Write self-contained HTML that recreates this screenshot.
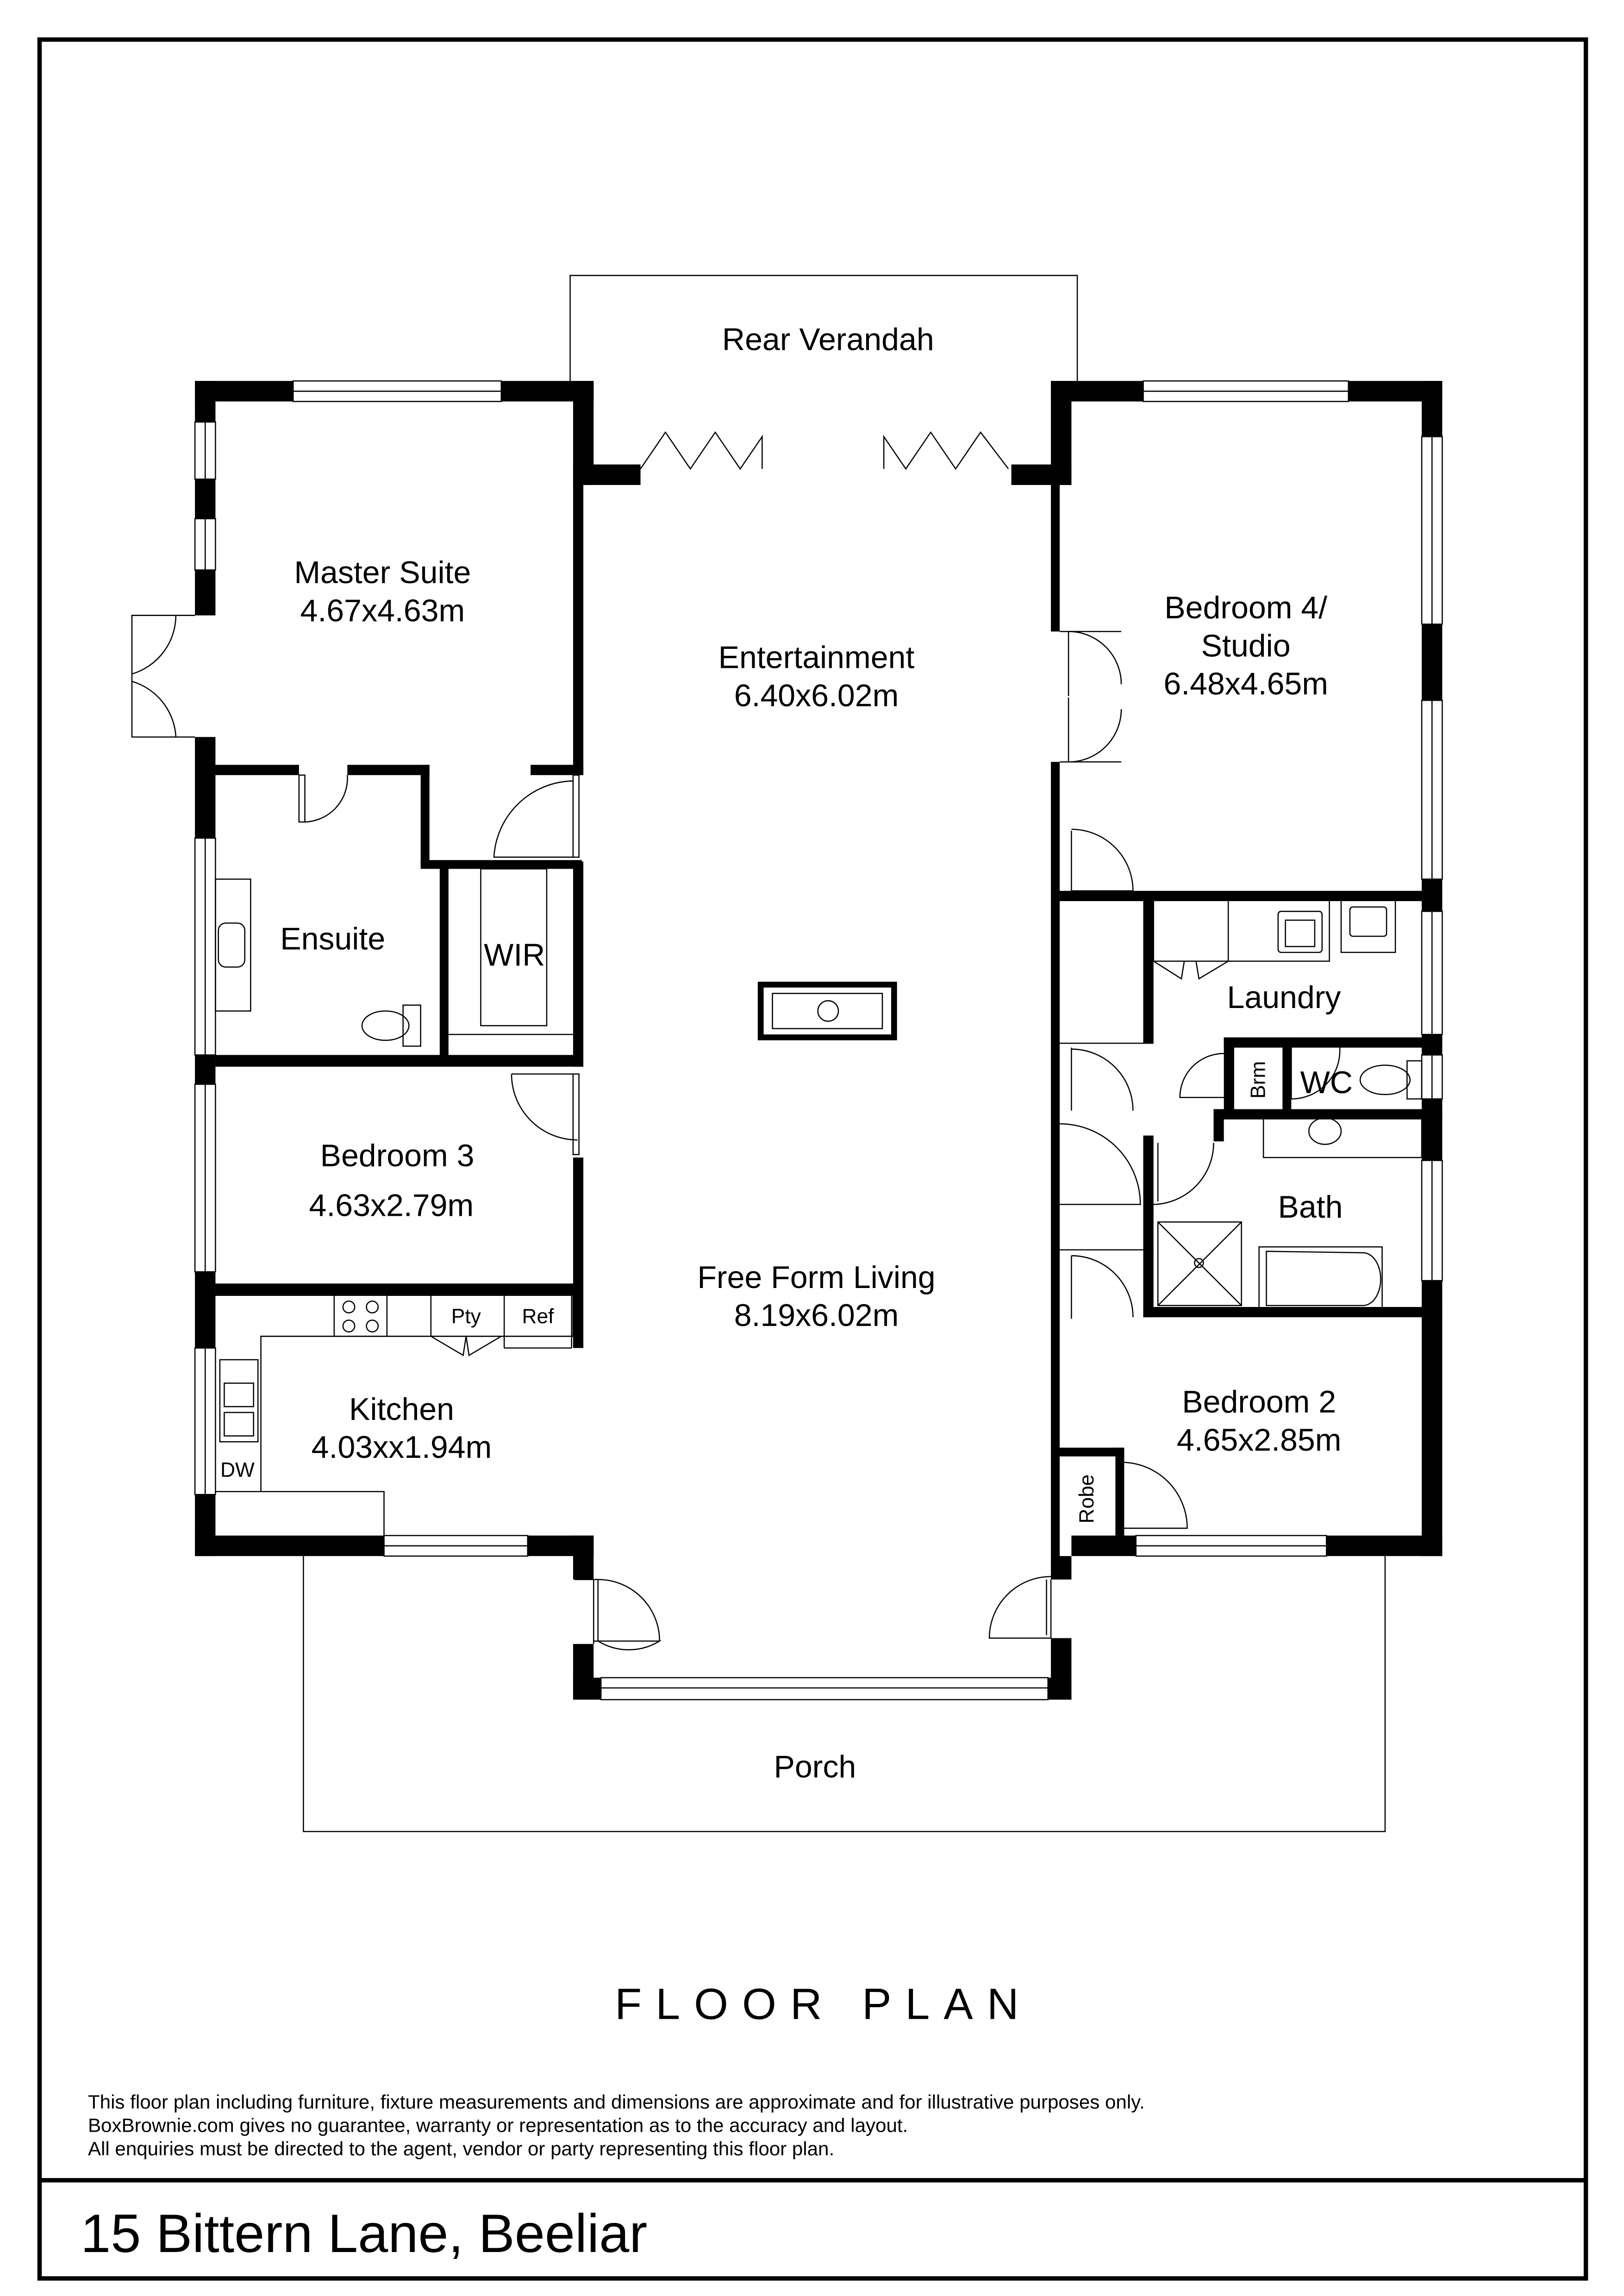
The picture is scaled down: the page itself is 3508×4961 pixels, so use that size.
<!DOCTYPE html>
<html><head><meta charset="utf-8"><style>
html,body{margin:0;padding:0;background:#fff;}
svg{display:block;}
text{font-family:"Liberation Sans",sans-serif;fill:#000;}
</style></head><body>
<svg width="3508" height="4961" viewBox="0 0 1108 1567" preserveAspectRatio="none" xmlns="http://www.w3.org/2000/svg">
<rect x="0" y="0" width="1108" height="1567" fill="#fff"/>
<rect x="27" y="27" width="1055" height="1528" fill="none" stroke="#000" stroke-width="3"/>
<line x1="27" y1="1488" x2="1082" y2="1488" stroke="#000" stroke-width="3"/>

<g fill="none" stroke="#000" stroke-width="0.8">
<polyline points="389,260 389,188 735,188 735,260"/>
<polyline points="207,1062 207,1250 945,1250 945,1062"/>
<rect x="200" y="260" width="142" height="14"/><line x1="200" y1="267" x2="342" y2="267"/>
<rect x="780" y="260" width="140" height="14"/><line x1="780" y1="267" x2="920" y2="267"/>
<rect x="133" y="288" width="14" height="39"/><line x1="140" y1="288" x2="140" y2="327"/>
<rect x="133" y="354" width="14" height="35"/><line x1="140" y1="354" x2="140" y2="389"/>
<rect x="133" y="572" width="14" height="148"/><line x1="140" y1="572" x2="140" y2="720"/>
<rect x="133" y="740" width="14" height="128"/><line x1="140" y1="740" x2="140" y2="868"/>
<rect x="133" y="920" width="14" height="100"/><line x1="140" y1="920" x2="140" y2="1020"/>
<rect x="262" y="1048" width="98" height="14"/><line x1="262" y1="1055" x2="360" y2="1055"/>
<rect x="775" y="1048" width="130" height="14"/><line x1="775" y1="1055" x2="905" y2="1055"/>
<rect x="410" y="1145" width="305" height="15"/><line x1="410" y1="1152" x2="715" y2="1152"/>
<rect x="970" y="298" width="14" height="128"/><line x1="977" y1="298" x2="977" y2="426"/>
<rect x="970" y="478" width="14" height="122"/><line x1="977" y1="478" x2="977" y2="600"/>
<rect x="970" y="622" width="14" height="84"/><line x1="977" y1="622" x2="977" y2="706"/>
<rect x="970" y="720" width="14" height="30"/><line x1="977" y1="720" x2="977" y2="750"/>
<rect x="970" y="792" width="14" height="82"/><line x1="977" y1="792" x2="977" y2="874"/>
</g>

<g fill="#000">
<rect x="133" y="260" width="67" height="14"/>
<rect x="342" y="260" width="63" height="14"/>
<rect x="133" y="260" width="14" height="28"/>
<rect x="133" y="327" width="14" height="27"/>
<rect x="133" y="389" width="14" height="31"/>
<rect x="133" y="503" width="14" height="69"/>
<rect x="133" y="720" width="14" height="20"/>
<rect x="133" y="868" width="14" height="52"/>
<rect x="133" y="1020" width="14" height="42"/>
<rect x="133" y="1048" width="129" height="14"/>
<rect x="360" y="1048" width="45" height="14"/>
<rect x="391" y="260" width="14" height="71"/>
<rect x="391" y="317" width="46" height="14"/>
<rect x="391" y="331" width="7" height="198"/>
<rect x="391" y="588" width="7" height="140"/>
<rect x="391" y="790" width="7" height="130"/>
<rect x="391" y="1048" width="14" height="30"/>
<rect x="391" y="1122" width="14" height="38"/>
<rect x="391" y="1145" width="19" height="15"/>
<rect x="147" y="522" width="57" height="7"/>
<rect x="237" y="522" width="56" height="7"/>
<rect x="362" y="522" width="36" height="7"/>
<rect x="287" y="522" width="6" height="68"/>
<rect x="287" y="587" width="110" height="6"/>
<rect x="300" y="590" width="6" height="137"/>
<rect x="147" y="720" width="250" height="8"/>
<rect x="147" y="876" width="250" height="8"/>
<rect x="717" y="260" width="63" height="14"/>
<rect x="920" y="260" width="64" height="14"/>
<rect x="717" y="260" width="14" height="71"/>
<rect x="690" y="317" width="41" height="14"/>
<rect x="717" y="331" width="6" height="100"/>
<rect x="717" y="520" width="6" height="555"/>
<rect x="970" y="260" width="14" height="38"/>
<rect x="970" y="426" width="14" height="52"/>
<rect x="970" y="600" width="14" height="22"/>
<rect x="970" y="706" width="14" height="14"/>
<rect x="970" y="750" width="14" height="42"/>
<rect x="970" y="874" width="14" height="188"/>
<rect x="731" y="1048" width="44" height="14"/>
<rect x="905" y="1048" width="79" height="14"/>
<rect x="717" y="1062" width="14" height="16"/>
<rect x="717" y="1118" width="14" height="42"/>
<rect x="715" y="1145" width="16" height="15"/>
<rect x="723" y="608" width="261" height="7"/>
<rect x="780" y="614" width="7" height="98"/>
<rect x="835" y="708" width="149" height="7"/>
<rect x="835" y="708" width="7" height="52"/>
<rect x="875" y="708" width="6" height="52"/>
<rect x="828" y="757" width="156" height="7"/>
<rect x="828" y="757" width="7" height="22"/>
<rect x="780" y="775" width="7" height="124"/>
<rect x="780" y="892" width="204" height="7"/>
<rect x="723" y="988" width="44" height="6"/>
<rect x="761" y="988" width="6" height="62"/>
</g>

<g fill="none" stroke="#000" stroke-width="0.8">
<polyline points="437,320 454,295 471,320 488,295 505,320 520,298 520,320"/>
<polyline points="603,320 603,298 618,320 635,295 652,320 669,295 688,320"/>
<path d="M133,420 L90,420 L90,462 M133,503 L90,503 L90,462"/>
<path d="M120,420 A42,42 0 0 1 90,460"/><path d="M120,503 A42,42 0 0 0 90,465"/>
<rect x="204" y="529" width="4" height="32"/><path d="M237,529 A30,30 0 0 1 207,561"/>
<rect x="391" y="529" width="4" height="56"/><path d="M391,533 A55,55 0 0 0 337,585 L391,585"/>
<rect x="391" y="733" width="4" height="55"/><path d="M349,733 A45,45 0 0 0 394,778"/><line x1="349" y1="733" x2="391" y2="733"/>
<path d="M405,1078 L405,1122 M392,1078 L408,1078 L408,1120 A40,40 0 0 0 450,1120 L405,1120 M408,1078 A42,42 0 0 1 450,1120"/>
<path d="M717,1078 L717,1118 L675,1118 A42,42 0 0 1 717,1076 M714,1078 L714,1116"/>
<path d="M723,431 L765,431 M723,520 L765,520"/><path d="M729,431 A36,36 0 0 1 765,467"/><path d="M729,520 A36,36 0 0 0 765,484"/>
<line x1="729" y1="431" x2="729" y2="475"/><line x1="729" y1="476" x2="729" y2="520"/>
<path d="M731,567 L731,608 M731,566 A42,42 0 0 1 773,608 L731,608"/>
<path d="M731,715 L731,758 M731,716 A42,42 0 0 1 773,758"/><line x1="723" y1="712" x2="787" y2="712"/>
<path d="M723,767 A55,55 0 0 1 778,822 L723,822"/>
<path d="M731,857 L731,900 M731,857 A42,42 0 0 1 773,899"/><line x1="723" y1="853" x2="787" y2="853"/>
<path d="M828,780 A42,42 0 0 1 787,822 M790,780 L790,820"/>
<path d="M835,719 A30,30 0 0 0 805,749 L835,749"/>
<path d="M881,714 L881,750 M881,750 A33,33 0 0 0 914,714"/>
<path d="M765,998 A45,45 0 0 1 810,1043 L765,1043 L765,998"/>
<rect x="787" y="614" width="120" height="42"/><line x1="838" y1="614" x2="838" y2="656"/>
<rect x="872" y="622" width="30" height="28" rx="2"/><rect x="877" y="628" width="20" height="18"/>
<rect x="915" y="614" width="37" height="36"/><rect x="921" y="619" width="25" height="20" rx="2"/>
<path d="M787,656 L806,668 L808,656 M838,656 L818,668 L816,656"/>
<ellipse cx="945" cy="737" rx="17" ry="10"/><rect x="960" y="724" width="10" height="26"/>
<rect x="862" y="763" width="108" height="27"/><ellipse cx="904" cy="772" rx="11" ry="9"/>
<rect x="790" y="834" width="57" height="57"/><line x1="790" y1="834" x2="847" y2="891"/><line x1="847" y1="834" x2="790" y2="891"/><circle cx="818" cy="862" r="3"/>
<rect x="859" y="851" width="84" height="43"/><path d="M864,854 L930,855 A12,18 0 0 1 930,891 L864,891 Z"/>
<rect x="147" y="600" width="24" height="90"/><rect x="149" y="630" width="18" height="30" rx="5"/>
<ellipse cx="263" cy="700" rx="16" ry="10"/><rect x="275" y="686" width="12" height="28"/>
<rect x="328" y="593" width="45" height="107"/>
<line x1="306" y1="706" x2="391" y2="706"/>
<path d="M147,884 L391,884 L391,912 L178,912 L178,1018 L262,1018 L262,1048"/>
<line x1="147" y1="1018" x2="178" y2="1018"/>
<line x1="294" y1="884" x2="294" y2="912"/><line x1="344" y1="884" x2="344" y2="920"/>
<line x1="390" y1="884" x2="390" y2="920"/><line x1="344" y1="920" x2="390" y2="920"/>
<path d="M294,912 L316,925 L318,912 M342,912 L320,925 L318,912"/>
<rect x="228" y="884" width="36" height="28"/>
<circle cx="238" cy="892" r="4"/><circle cx="254" cy="892" r="4"/><circle cx="238" cy="905" r="4"/><circle cx="254" cy="905" r="4"/>
<rect x="150" y="928" width="26" height="56"/><rect x="153" y="944" width="20" height="16"/><rect x="153" y="964" width="20" height="16"/>
<rect x="519" y="672" width="91" height="36" stroke-width="4"/><rect x="527" y="678" width="75" height="24"/><circle cx="565" cy="690" r="7"/>
</g>

<g font-size="21.5" text-anchor="middle">
<text x="565" y="239">Rear Verandah</text>
<text x="261" y="398">Master Suite</text><text x="261" y="424">4.67x4.63m</text>
<text x="557" y="456">Entertainment</text><text x="557" y="482">6.40x6.02m</text>
<text x="850" y="422">Bedroom 4/</text><text x="850" y="448">Studio</text><text x="850" y="474">6.48x4.65m</text>
<text x="227" y="648">Ensuite</text>
<text x="351" y="659">WIR</text>
<text x="876" y="688">Laundry</text>
<text x="905" y="746">WC</text>
<text x="894" y="831">Bath</text>
<text x="271" y="796">Bedroom 3</text><text x="267" y="830">4.63x2.79m</text>
<text x="557" y="879">Free Form Living</text><text x="557" y="905">8.19x6.02m</text>
<text x="274" y="969">Kitchen</text><text x="274" y="995">4.03xx1.94m</text>
<text x="859" y="964">Bedroom 2</text><text x="859" y="990">4.65x2.85m</text>
<text x="556" y="1213">Porch</text>
</g>
<g font-size="14" text-anchor="middle">
<text x="318" y="903">Pty</text><text x="367" y="903">Ref</text>
<text x="162" y="1008">DW</text>
<text transform="translate(863,737) rotate(-90)">Brm</text>
<text transform="translate(746,1023) rotate(-90)">Robe</text>
</g>
<text x="562" y="1378" font-size="30" text-anchor="middle" letter-spacing="9.5">FLOOR PLAN</text>
<g font-size="13.3">
<text x="60" y="1439">This floor plan including furniture, fixture measurements and dimensions are approximate and for illustrative purposes only.</text>
<text x="60" y="1455">BoxBrownie.com gives no guarantee, warranty or representation as to the accuracy and layout.</text>
<text x="60" y="1471">All enquiries must be directed to the agent, vendor or party representing this floor plan.</text>
</g>
<text x="55" y="1537" font-size="37">15 Bittern Lane, Beeliar</text>
</svg>
</body></html>
